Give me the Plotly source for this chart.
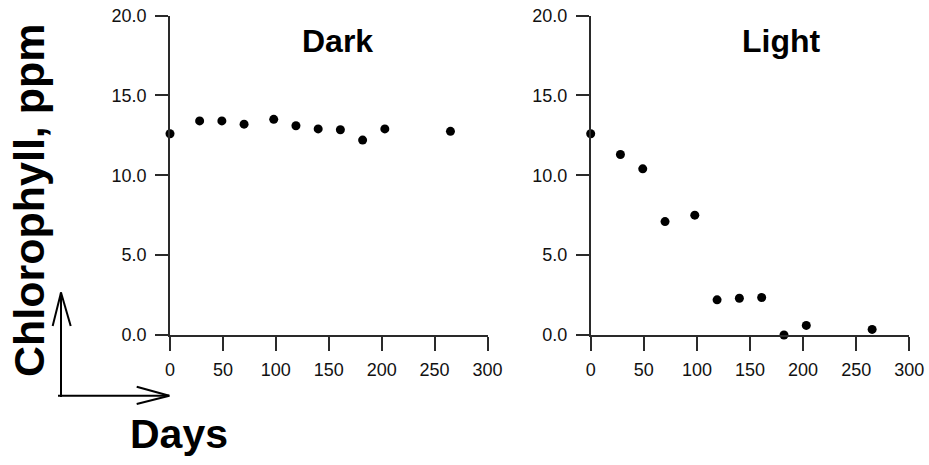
import plotly.graph_objects as go

W, H = 929, 465

days = [0, 28, 49, 70, 98, 119, 140, 161, 182, 203, 265]
dark_chl = [12.6, 13.4, 13.4, 13.2, 13.5, 13.1, 12.9, 12.85, 12.2, 12.9, 12.75]
light_chl = [12.6, 11.3, 10.4, 7.1, 7.5, 2.2, 2.3, 2.35, 0.0, 0.6, 0.35]

panel_titles = ["Dark", "Light"]
x_ticks = [0, 50, 100, 150, 200, 250, 300]
y_ticks = [0, 5, 10, 15, 20]
y_label = "Chlorophyll, ppm"
x_label = "Days"

FONT = "Liberation Sans, Arial, sans-serif"
AX = "#2a2a2a"

def px(x):
    return x / W

def py(y):
    return 1 - y / H

fig = go.Figure()
fig.add_trace(go.Scatter(x=days, y=dark_chl, mode="markers", xaxis="x", yaxis="y",
                         marker=dict(color="black", size=9), cliponaxis=False, showlegend=False))
fig.add_trace(go.Scatter(x=days, y=light_chl, mode="markers", xaxis="x2", yaxis="y2",
                         marker=dict(color="black", size=9), cliponaxis=False, showlegend=False))

ydom = [py(335), py(15.5)]
common_x = dict(range=[0, 300], tickvals=x_ticks, ticks="outside", ticklen=14, tickwidth=1.5,
                tickcolor=AX, showline=True, linecolor=AX, linewidth=1.5, showgrid=False,
                zeroline=False, tickfont=dict(family=FONT, size=18, color="#111"),
                fixedrange=True, automargin=False, ticklabeloverflow="allow",
                ticklabelstandoff=4)
common_y = dict(range=[0, 20], tickvals=y_ticks, tickformat=".1f", ticks="outside", ticklen=13,
                tickwidth=1.5, tickcolor=AX, showline=True, linecolor=AX, linewidth=1.5,
                showgrid=False, zeroline=False, tickfont=dict(family=FONT, size=18, color="#111"),
                fixedrange=True, automargin=False, ticklabeloverflow="allow",
                ticklabelstandoff=5)

fig.update_layout(
    width=W, height=H,
    margin=dict(l=0, r=0, t=0, b=0),
    paper_bgcolor="white", plot_bgcolor="white",
    xaxis=dict(domain=[px(170), px(487.5)], anchor="y", **common_x),
    yaxis=dict(domain=ydom, anchor="x", **common_y),
    xaxis2=dict(domain=[px(590.7), px(909.3)], anchor="y2", **common_x),
    yaxis2=dict(domain=ydom, anchor="x2", **common_y),
)

annotations = [
    dict(text=panel_titles[0], x=px(337), y=py(41.5), xref="paper", yref="paper",
         showarrow=False, xanchor="center", yanchor="middle",
         font=dict(family=FONT, size=32, color="black", weight="bold")),
    dict(text=panel_titles[1], x=px(781.7), y=py(41.5), xref="paper", yref="paper",
         showarrow=False, xanchor="center", yanchor="middle",
         font=dict(family=FONT, size=32, color="black", weight="bold")),
    dict(text=y_label, x=px(29), y=py(200), xref="paper", yref="paper", textangle=-90,
         showarrow=False, xanchor="center", yanchor="middle",
         font=dict(family=FONT, size=43, color="black", weight="bold")),
    dict(text=x_label, x=px(178.5), y=py(434), xref="paper", yref="paper",
         showarrow=False, xanchor="center", yanchor="middle",
         font=dict(family=FONT, size=41, color="black", weight="bold")),
]
fig.update_layout(annotations=annotations)

line = dict(color="black", width=2)
segs = [
    (61, 397, 61, 292.5),        # vertical arrow shaft
    (61, 292.5, 52.7, 326),      # head left
    (61, 292.5, 70.7, 326),      # head right
    (58, 395.7, 169.3, 395.7),   # horizontal shaft
    (169.3, 395.7, 136.7, 386.7),
    (169.3, 395.7, 136.7, 404),
]
shapes = [dict(type="line", xref="paper", yref="paper", x0=px(a), y0=py(b), x1=px(c), y1=py(d),
               line=line) for a, b, c, d in segs]
fig.update_layout(shapes=shapes)

fig.write_html("out.html", config={"displayModeBar": False},
               post_script="document.body.style.margin='0px';")
